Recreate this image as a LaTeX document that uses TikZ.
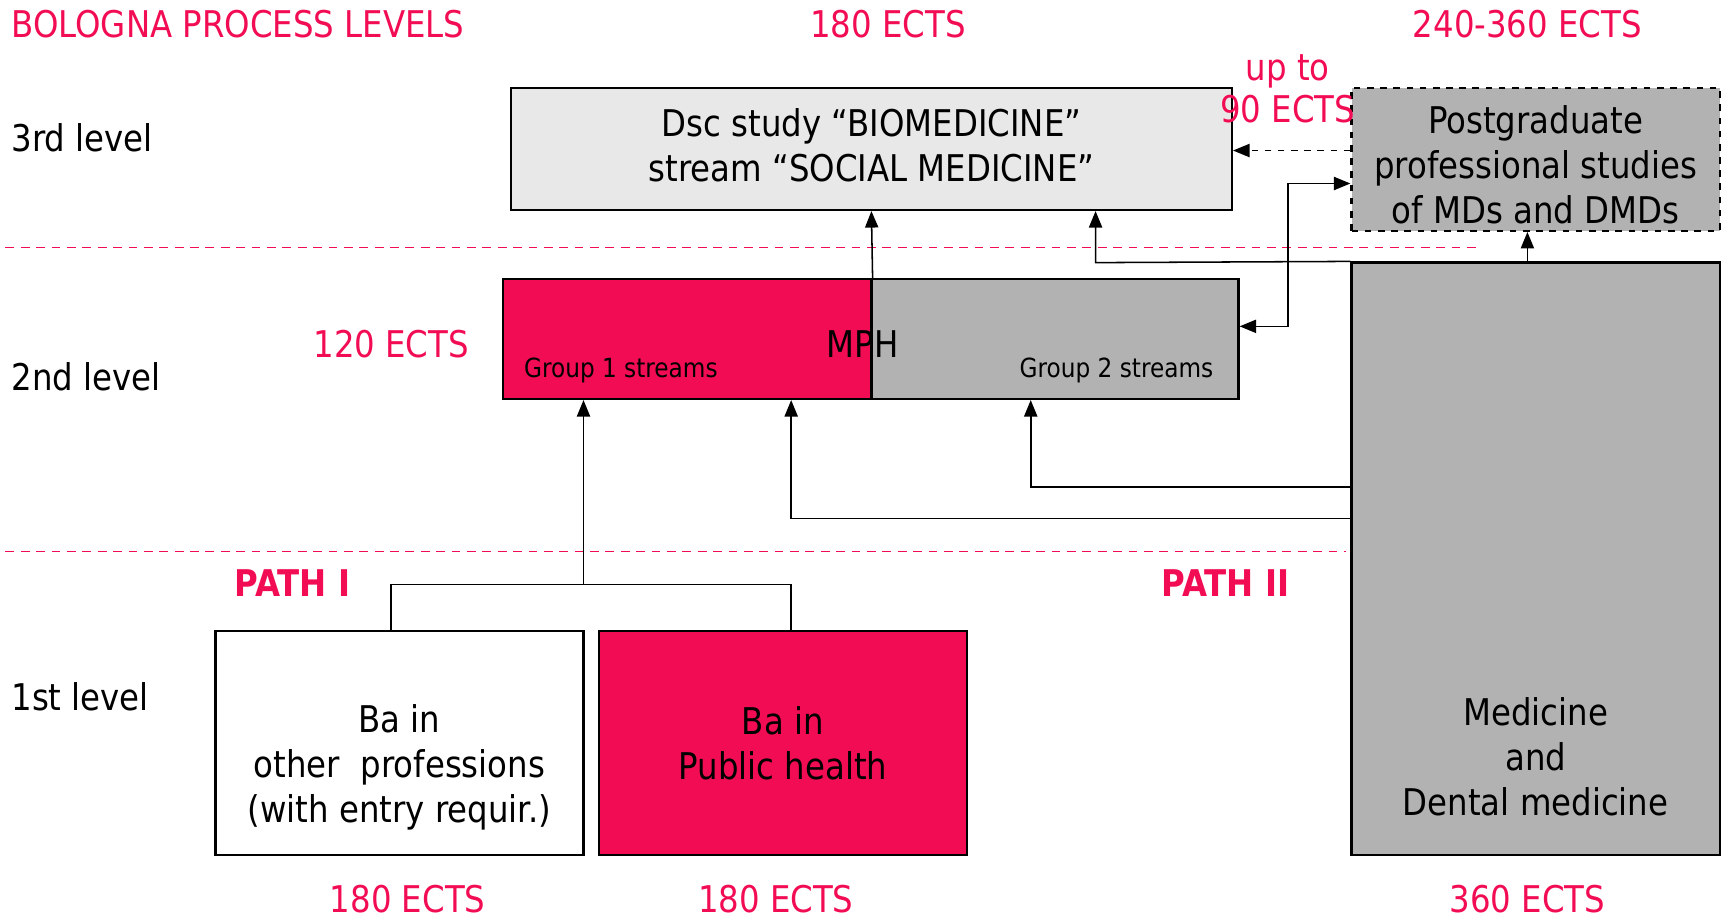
\documentclass[tikz,border=0pt]{standalone}
\usepackage{fontspec}
\setmainfont{DejaVu Sans}[FakeStretch=0.88]
\usetikzlibrary{arrows.meta}
\definecolor{bred}{RGB}{242,12,84}
\definecolor{bgray}{RGB}{178,178,178}
\definecolor{lgray}{RGB}{232,232,232}
\begin{document}
\begin{tikzpicture}[x=0.5pt,y=-0.5pt,
  box/.style={draw=black,line width=1.1pt,inner sep=0pt,minimum width=167.5pt},
  txt/.style={inner sep=0pt,align=center,font=\fontsize{16.75}{20.5}\selectfont},
  redtxt/.style={txt,text=bred},
  small/.style={inner sep=0pt,font=\fontsize{12}{14}\selectfont},
  conn/.style={line width=0.7pt,draw=black},
  arr/.style={conn,-{Triangle[length=7.5pt,width=6pt]}},
  arrboth/.style={conn,{Triangle[length=7.5pt,width=6pt]}-{Triangle[length=7.5pt,width=6pt]}},
  reddash/.style={draw=bred,line width=0.6pt,dash pattern=on 4pt off 3pt}]
\useasboundingbox (0,0) rectangle (1568,838);
% guide lines
\coordinate (l1a) at (5,225); \coordinate (l1b) at (1348,225);
\coordinate (l2a) at (5,502); \coordinate (l2b) at (1225,502);
\draw[reddash] (l1a) -- (l1b);
\draw[reddash] (l2a) -- (l2b);
% boxes
\node[box,fill=lgray,minimum width=328pt,minimum height=55.5pt] (dsc) at (793,135.5) {};
\node[box,fill=bgray,dashed,minimum height=65pt] (post) at (1397.5,145) {};
\node[box,fill=bred,minimum height=54.5pt] (g1) at (625.5,308.5) {};
\node[box,fill=bgray,minimum width=167pt,minimum height=54.5pt] (g2) at (960,308.5) {};
\node[box,fill=bgray,minimum height=269.5pt] (med) at (1397.5,508.5) {};
\node[box,fill=white,minimum height=102pt] (bao) at (363.5,676) {};
\node[box,fill=bred,minimum height=102pt] (bap) at (712.5,676) {};
% box texts
\node[txt] (dsct) at (793,132.5) {Dsc study “BIOMEDICINE”\\stream “SOCIAL MEDICINE”};
\node[txt] (postt) at (1397.5,150) {Postgraduate\\professional studies\\of MDs and DMDs};
\node[txt] (mpht) at (785,313) {MPH};
\node[small] (g1t) at (565,337) {Group 1 streams};
\node[small] (g2t) at (1016,337) {Group 2 streams};
\node[txt] (medt) at (1397.5,689) {Medicine\\and\\Dental medicine};
\node[txt] (baot) at (363.5,698) {Ba in\\other\ \ professions\\(with entry requir.)};
\node[txt] (bapt) at (712.5,676) {Ba in\\Public health};
% labels
\node[redtxt,anchor=west] (title) at (10,22) {BOLOGNA PROCESS LEVELS};
\node[redtxt] (e3) at (808,22) {180 ECTS};
\node[redtxt] (e4) at (1390,22) {240-360 ECTS};
\node[redtxt,font=\fontsize{16.75}{19}\selectfont] (e5) at (1172,81) {up to\\90 ECTS};
\node[redtxt] (e2) at (356,313) {120 ECTS};
\node[redtxt,font=\bfseries\fontsize{16.75}{20.5}\selectfont] (p1) at (266,531) {PATH I};
\node[redtxt,font=\bfseries\fontsize{16.75}{20.5}\selectfont] (p2) at (1115,531) {PATH II};
\node[redtxt] (e1a) at (371,818) {180 ECTS};
\node[redtxt] (e1b) at (706,818) {180 ECTS};
\node[redtxt] (e6) at (1390,818) {360 ECTS};
\node[txt,anchor=west] (lv3) at (10,125) {3rd level};
\node[txt,anchor=west] (lv2) at (10,343) {2nd level};
\node[txt,anchor=west] (lv1) at (10,634) {1st level};
% connectors
\coordinate (c1) at (356,532); \coordinate (c2) at (720,532); \coordinate (c3) at (531,532);
\draw[conn] (c1 |- bao.north) -- (c1) -- (c2) -- (c2 |- bap.north);
\draw[arr] (c3) -- (c3 |- g1.south);
\draw[arr] (g1.north east) -- (dsc.south);
\coordinate (m1) at (997,239);
\draw[arr] (med.north west) -- (m1) -- (m1 |- dsc.south);
\coordinate (m0) at (1390,239);
\draw[arr] (m0) -- (m0 |- post.south);
\coordinate (m2) at (938,443);
\draw[arr] (med.west |- m2) -- (m2) -- (m2 |- g2.south);
\coordinate (m3) at (720,472);
\draw[arr] (med.west |- m3) -- (m3) -- (m3 |- g1.south);
\coordinate (b1) at (1172,297); \coordinate (b2) at (1172,167);
\draw[arrboth] (g2.east |- b1) -- (b1) -- (b2) -- (post.west |- b2);
\coordinate (d1) at (1230,137);
\draw[arr,dashed] (post.west |- d1) -- (dsc.east |- d1);
\end{tikzpicture}
\end{document}
